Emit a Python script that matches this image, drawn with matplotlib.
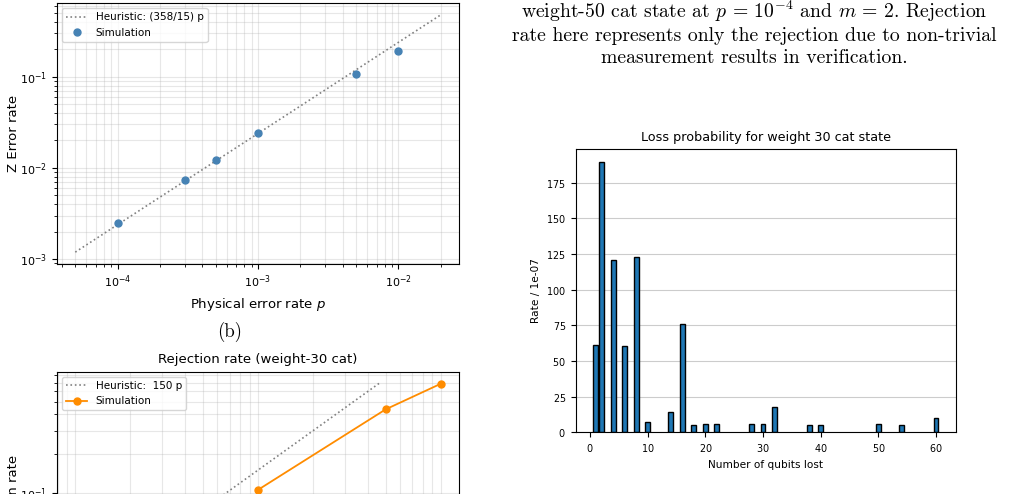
import matplotlib.pyplot as plt
import numpy as np

plt.rcParams['mathtext.fontset'] = 'cm'
plt.rcParams['axes.formatter.use_mathtext'] = True

# (a) Z error rate of the cat state
p_sim = [1e-4, 3e-4, 5e-4, 1e-3, 5e-3, 1e-2]
z_err = [2.5e-3, 7.4e-3, 0.0123, 0.0244, 0.108, 0.193]
p_heur = [5e-5, 2e-2]
z_coef = 358 / 15

# (b) rejection rate, weight-30 cat
p_rej = [1e-3, 5e-3, 1e-2]
rej_rate = [0.106, 0.437, 0.685]
p_rej_heur = [1e-4, 4.6e-3]
rej_coef = 150

# loss histogram, weight 30 cat
lost = [1, 2, 4, 6, 8, 10, 14, 16, 18, 20, 22, 28, 30, 32, 38, 40, 50, 54, 60]
rate = [61, 189.5, 121, 60.5, 123, 7.4, 14.5, 76, 5.1, 6.0, 5.6, 6.0, 5.6, 18, 5.1, 5.1, 5.6, 5.1, 10.3]

caption = [
    r'weight-50 cat state at $p\,=\,10^{-4}$ and $m\,=\,2$. Rejection',
    'rate here represents only the rejection due to non-trivial',
    'measurement results in verification.',
]

W, H = 1010, 494
fig = plt.figure(figsize=(W / 100, H / 100), dpi=100)


def box(l, t, r, b):
    return [l / W, 1 - b / H, (r - l) / W, (b - t) / H]


fs = 9.5
ftick = 8.0
fleg = 7.5

# top left
ax1 = fig.add_axes(box(57, 3, 459, 264))
ph = np.array(p_heur)
ax1.loglog(ph, z_coef * ph, ':', color='gray', lw=1.2, label='Heuristic: (358/15) p')
ax1.loglog(p_sim, z_err, 'o', color='steelblue', ms=5, label='Simulation')
ax1.grid(True, which='both', alpha=0.3)
ax1.set_xlabel('Physical error rate $p$', fontsize=fs, math_fontfamily='dejavusans')
ax1.set_ylabel('Z Error rate', fontsize=fs, labelpad=0.5)
ax1.tick_params(labelsize=ftick)
ax1.legend(loc='upper left', fontsize=fleg)

fig.text(230 / W, 1 - 332 / H, '(b)', family='cmr10', fontsize=13.5, ha='center', va='center')

# bottom left (cut off by the page)
ax2 = fig.add_axes(box(57, 371.7, 459, 632))
pr = np.array(p_rej_heur)
ax2.loglog(pr, rej_coef * pr, ':', color='gray', lw=1.2, label='Heuristic:  150 p')
ax2.loglog(p_rej, rej_rate, 'o-', color='darkorange', ms=5, lw=1.3, label='Simulation')
ax2.set_xlim(10 ** -4.1, 10 ** -1.9)
ax2.set_ylim(0.0087, 0.847)
ax2.grid(True, which='both', alpha=0.3)
ax2.set_title('Rejection rate (weight-30 cat)', fontsize=fs)
ax2.set_ylabel('Rejection rate', fontsize=fs, labelpad=0.5)
ax2.tick_params(labelsize=ftick, labelbottom=False)
ax2.legend(loc='upper left', fontsize=fleg)

# caption on the right
for i, line in enumerate(caption):
    fig.text(754 / W, 1 - (18.3 + 22.5 * i) / H, line, family='cmr10', fontsize=14.2,
             ha='center', va='baseline')

# histogram
fs2 = 7.6
ax3 = fig.add_axes(box(575.7, 149, 956, 432.3))
ax3.bar(lost, rate, width=0.85, color='#1f77b4', edgecolor='black', lw=1)
ax3.set_axisbelow(True)
ax3.yaxis.grid(True, color='#cccccc')
ax3.set_xlim(-2.48, 63.47)
ax3.set_ylim(0, 198.7)
ax3.set_title('Loss probability for weight 30 cat state', fontsize=9.2)
ax3.set_xlabel('Number of qubits lost', fontsize=fs2)
ax3.set_ylabel('Rate / 1e-07', fontsize=fs2)
ax3.tick_params(labelsize=6.9)

plt.savefig('out.png', dpi=100)
